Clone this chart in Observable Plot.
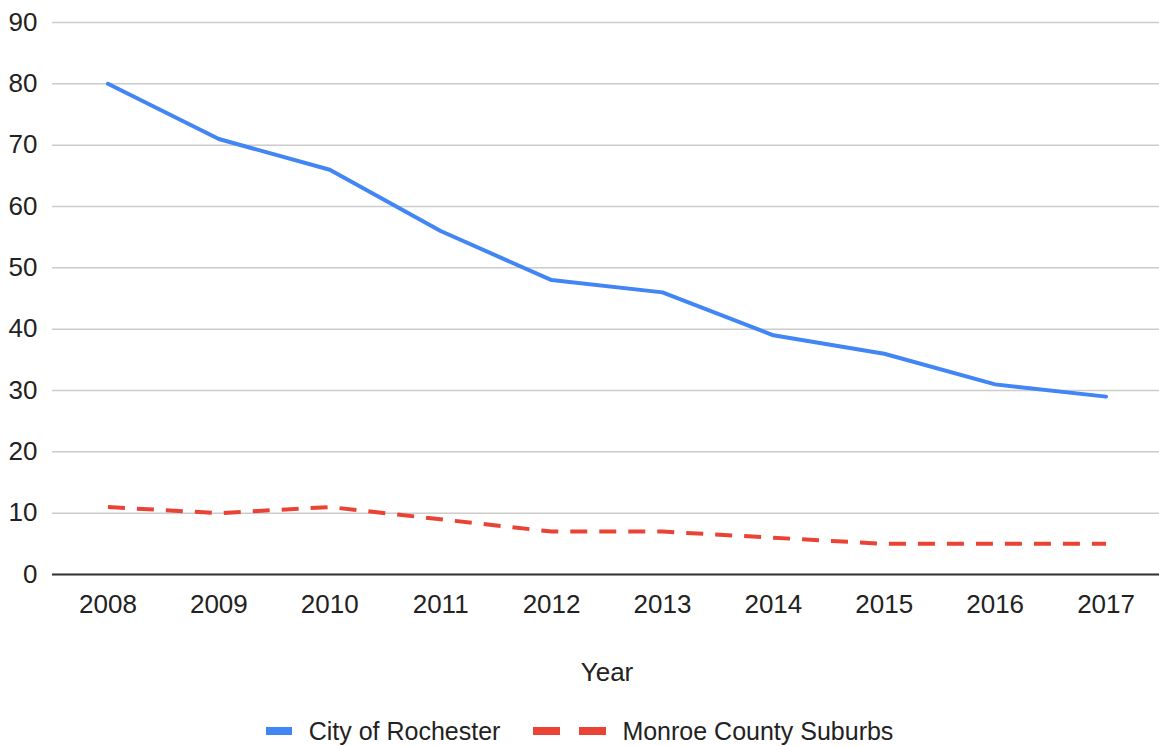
<!DOCTYPE html>
<html>
<head>
<meta charset="utf-8">
<script src="https://cdn.jsdelivr.net/npm/d3@7"></script>
<script src="https://cdn.jsdelivr.net/npm/@observablehq/plot@0.6"></script>
<style>
  html, body { margin: 0; padding: 0; background: #fff; }
  body { width: 1159px; height: 746px; overflow: hidden; font-family: "Liberation Sans", Arial, sans-serif; }
  #chart svg { display: block; }
  #legend { display: flex; justify-content: center; align-items: center; height: 30px; padding-top: 11px; font-size: 25px; color: #222; }
  .item { display: flex; align-items: center; }
  .item + .item { margin-left: 33px; }
  .sw { display: block; }
</style>
</head>
<body>
<div id="chart"></div>
<div id="legend"></div>
<script>
const years = ["2008","2009","2010","2011","2012","2013","2014","2015","2016","2017"];
const rochester = [80, 71, 66, 56, 48, 46, 39, 36, 31, 29];
const suburbs = [11, 10, 11, 9, 7, 7, 6, 5, 5, 5];
const seriesNames = ["City of Rochester", "Monroe County Suburbs"];
const yTicks = [0, 10, 20, 30, 40, 50, 60, 70, 80, 90];

const rows = [
  ...years.map((y, i) => ({year: y, value: rochester[i], series: seriesNames[0]})),
  ...years.map((y, i) => ({year: y, value: suburbs[i], series: seriesNames[1]}))
];

const colors = {"City of Rochester": "#4285F4", "Monroe County Suburbs": "#EA4335"};

const chart = Plot.plot({
  width: 1159,
  height: 705,
  marginTop: 22,
  marginLeft: 52,
  marginRight: -2,
  marginBottom: 131,
  style: {fontFamily: '"Liberation Sans", Arial, sans-serif', fontSize: "26px", color: "#222", background: "#fff", overflow: "visible"},
  x: {type: "point", domain: years, padding: 0.5, round: false},
  y: {domain: [0, 90]},
  marks: [
    Plot.gridY(yTicks, {stroke: "#cccccc", strokeOpacity: 1, strokeWidth: 1.5}),
    Plot.axisY(yTicks, {tickSize: 0, tickPadding: 15, label: null, fill: "#222", fontSize: 26}),
    Plot.axisX({tickSize: 0, tickPadding: 20, label: "Year", labelAnchor: "center", labelArrow: "none", labelOffset: 106, fill: "#222", fontSize: 26}),
    Plot.ruleY([0], {stroke: "#333", strokeWidth: 2}),
    Plot.line(rows.filter(d => d.series === seriesNames[0]), {x: "year", y: "value", stroke: colors[seriesNames[0]], strokeWidth: 4, strokeLinejoin: "round"}),
    Plot.line(rows.filter(d => d.series === seriesNames[1]), {x: "year", y: "value", stroke: colors[seriesNames[1]], strokeWidth: 4, strokeDasharray: "17,12", strokeLinecap: "butt"})
  ]
});
document.getElementById("chart").appendChild(chart);

const legend = document.getElementById("legend");
seriesNames.forEach((name, i) => {
  const item = document.createElement("div");
  item.className = "item";
  const sw = i === 0
    ? `<svg class="sw" width="26" height="8" style="margin-right:17px"><rect x="0" y="0" width="26" height="8" fill="${colors[name]}"/></svg>`
    : `<svg class="sw" width="73" height="8" style="margin-right:16px"><rect x="0" y="0" width="27" height="8" fill="${colors[name]}"/><rect x="46" y="0" width="27" height="8" fill="${colors[name]}"/></svg>`;
  item.innerHTML = sw + `<span>${name}</span>`;
  legend.appendChild(item);
});
</script>
</body>
</html>
